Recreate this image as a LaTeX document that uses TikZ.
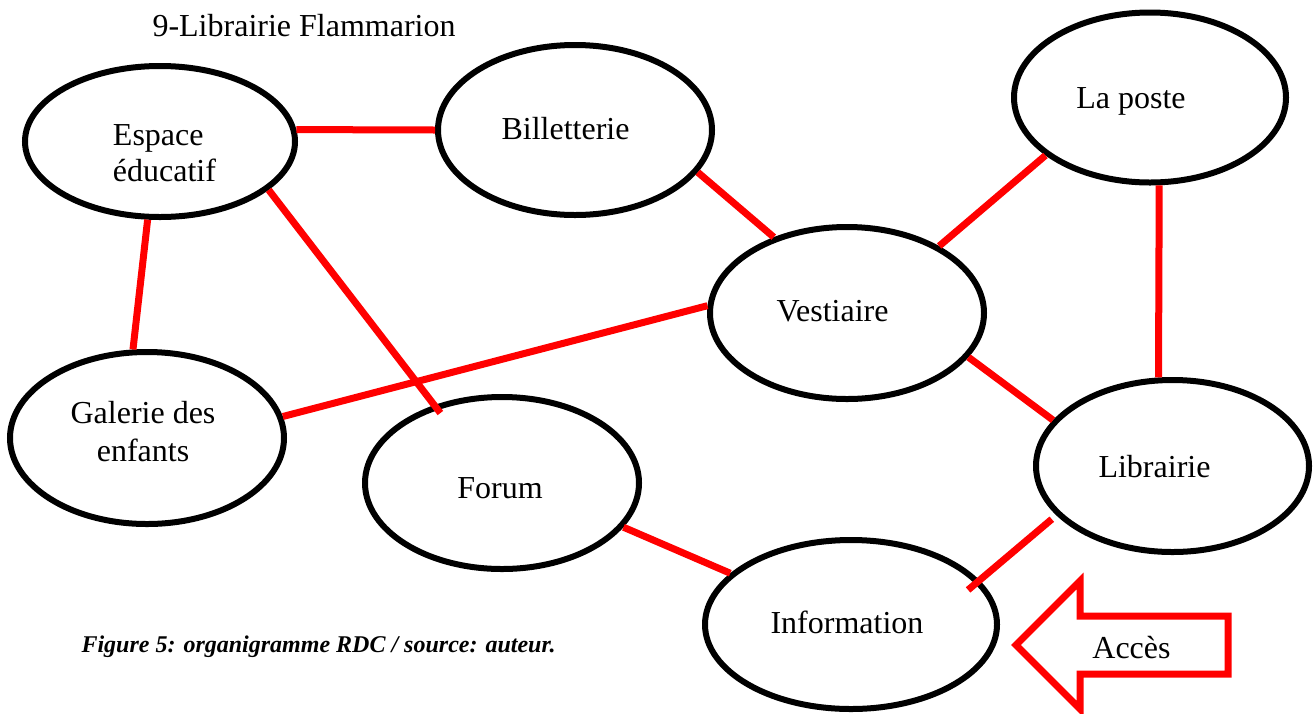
\documentclass[tikz,border=0pt]{standalone}
\usepackage{fontspec}
\setmainfont{Liberation Serif}
\usepackage{tikz}
\usetikzlibrary{shapes.geometric}

\begin{document}
\begin{tikzpicture}[
x=1pt,y=-1pt,
salle/.style={draw,ellipse,line width=6pt,inner sep=0pt,minimum width=274pt,minimum height=172pt},
lien/.style={draw=red,line width=7pt},
fleche/.style={draw=red,line width=7pt},
lbl/.style={font=\fontsize{32}{37}\selectfont,align=center},
legende/.style={font=\fontsize{24}{29}\selectfont\bfseries\itshape}
]
\useasboundingbox (0,0) rectangle (1316,713);
\node[lbl,anchor=base west] (titre) at (149,36) {9-Librairie Flammarion};
% salles
\node[salle,minimum width=270pt,minimum height=151pt,label={[lbl,align=left,font=\fontsize{32}{36}\selectfont,shift={(4.5,12)}]center:Espace\\éducatif}] (espace) at (160,141.5) {};
\node[salle,minimum height=170pt,label={[lbl,shift={(-9.5,-1)}]center:Billetterie}] (billet) at (575,130) {};
\node[salle,minimum width=272pt,minimum height=170pt,label={[lbl,shift={(-19,4)}]center:La poste}] (poste) at (1150,97.5) {};
\node[salle,label={[lbl,shift={(-14.5,-1.5)}]center:Vestiaire}] (vest) at (847,313) {};
\node[salle,label={[lbl,align=center,font=\fontsize{32}{38}\selectfont,shift={(-4,-6)}]center:Galerie des\\enfants}] (gal) at (147,438) {};
\node[salle,label={[lbl,shift={(-2,5)}]center:Forum}] (forum) at (502,483) {};
\node[salle,minimum width=273pt,label={[lbl,shift={(-18,0.5)}]center:Librairie}] (lib) at (1172.5,466) {};
\node[salle,minimum width=292pt,minimum height=169pt,label={[lbl,shift={(-4,-2.5)}]center:Information}] (info) at (851,624.5) {};
% liens
\draw[lien] (espace.5) -- (billet.west);
\draw[lien] (espace.261) -- (gal.99);
\draw[lien,shorten >=-10pt] (espace.336) -- (forum.131.5);
\draw[lien] (billet.341) -- (vest.134.6);
\draw[lien] (vest.177.4) -- (gal.9.8);
\draw[lien] (vest.36) -- (poste.209.5);
\draw[lien] (poste.276) -- (lib.99);
\draw[lien] (vest.340.7) -- (lib.159.7);
\draw[lien] (forum.340.6) -- (info.157);
\draw[lien,shorten <=6pt,shorten >=-15pt] (lib.203.2) -- (info.19.1);
% acces
\draw[fleche] (1016,645) -- (1080,581) -- (1080,616) -- (1228,616) -- (1228,674) -- (1080,674) -- (1080,709) -- cycle;
\node[lbl,anchor=base] (acces) at (1131.5,658) {Accès};
\node[legende,anchor=base west] (fig) at (78,652) {Figure 5: organigramme RDC / source: auteur.};
\end{tikzpicture}
\end{document}
